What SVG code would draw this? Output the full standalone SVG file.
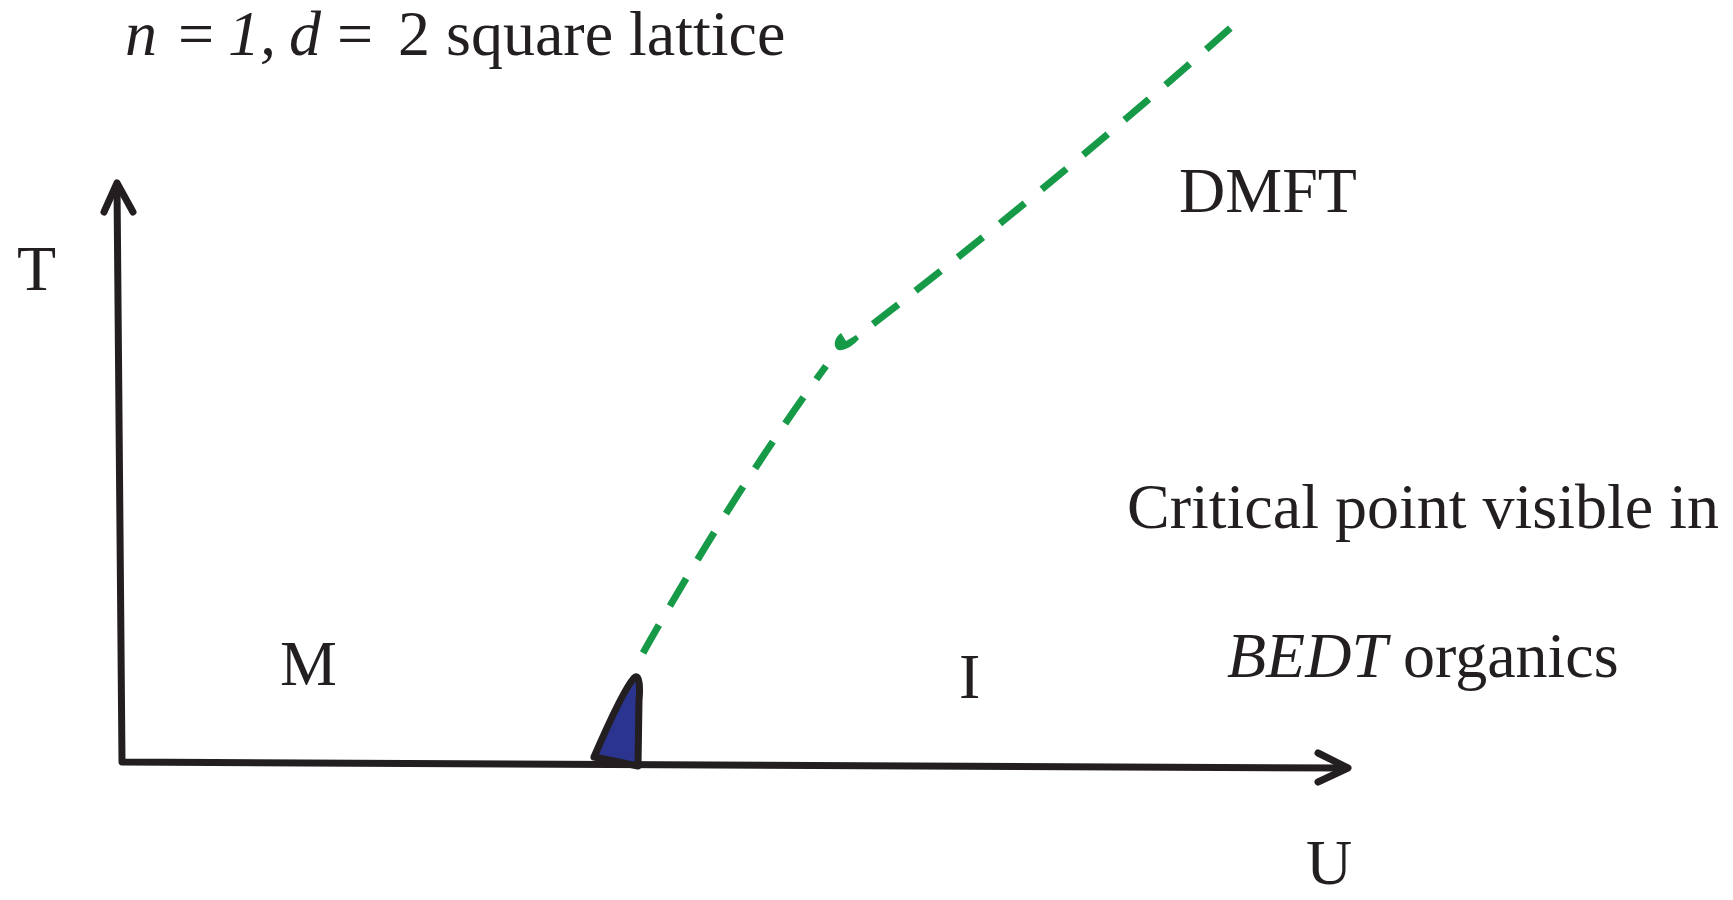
<svg xmlns="http://www.w3.org/2000/svg" width="1733" height="900" viewBox="0 0 1733 900">
<style>
text{font-family:"Liberation Serif","Times New Roman",serif;font-size:64px;fill:#231f20}
.it{font-style:italic}
.ax{fill:none;stroke:#231f20;stroke-width:7;stroke-linecap:round;stroke-linejoin:round}
.gr{fill:none;stroke:#179a48;stroke-width:7;stroke-dasharray:32 22}
</style>
<rect width="1733" height="900" fill="#fff"/>
<g id="title"><text y="55"><tspan class="it" x="125">n</tspan><tspan x="178">=</tspan><tspan class="it" x="228">1,</tspan><tspan class="it" x="289">d</tspan><tspan x="337">=</tspan><tspan x="398">2 square lattice</tspan></text></g>
<g id="axes">
<path class="ax" d="M117,186 L122,762 L1346,768"/>
<path class="ax" d="M104,212 L117,183 L133,212"/>
<path class="ax" d="M1318,753 L1348,768 L1318,782"/>
</g>
<g id="connectors">
<path class="gr" d="M643,653 Q735,490 826,366"/>
<path class="gr" d="M873,324 Q1062,178 1244,16"/>
<path d="M838,350 C832,346 835,337 841,333 L846,341 L856,335 L859,339 C853,346 845,351 838,350 Z" fill="#179a48"/>
</g>
<g id="critical-point">
<path d="M594,757 C610,720 625,688 634,678 C640,672 640,690 639,700 L638,766 Z" fill="#2b3590" stroke="#231f20" stroke-width="7" stroke-linejoin="round"/>
</g>
<g id="label-T"><text x="17" y="290">T</text></g>
<g id="label-M"><text x="280" y="685">M</text></g>
<g id="label-I"><text x="959" y="698">I</text></g>
<g id="label-U"><text x="1306" y="884">U</text></g>
<g id="label-DMFT"><text x="1179" y="212">DMFT</text></g>
<g id="label-critical"><text x="1127" y="528">Critical point visible in</text>
<text x="1227" y="677"><tspan class="it">BEDT</tspan> organics</text></g>
</svg>
